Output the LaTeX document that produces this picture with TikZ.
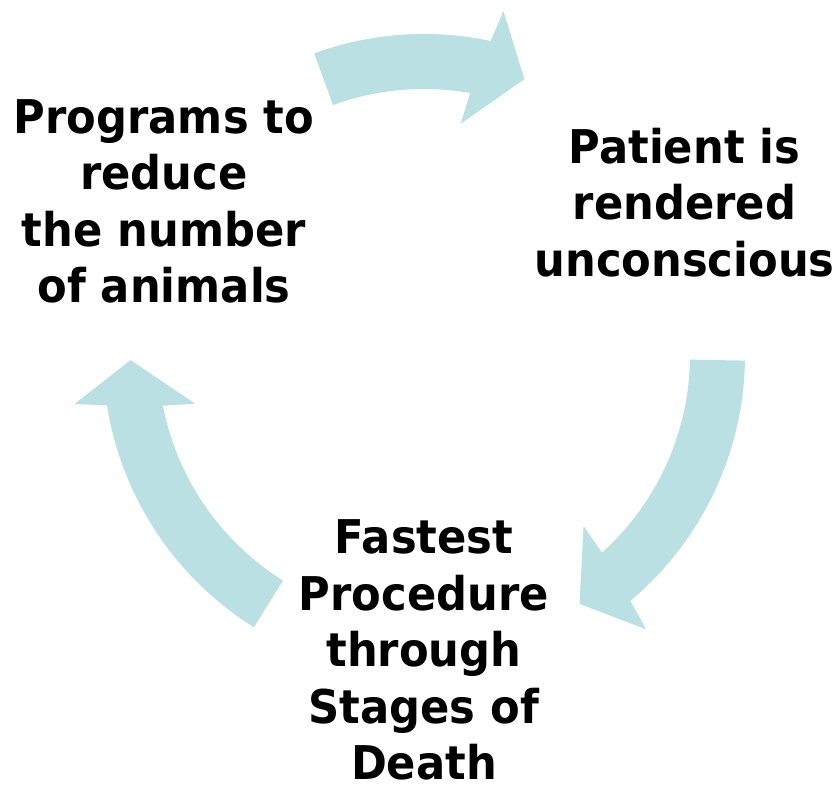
\documentclass[tikz,border=0pt]{standalone}
\usepackage{fontspec}
\setmainfont{DejaVu Sans}[FakeStretch=0.93]
\usepackage{xcolor}
\usepackage{tikz}

\definecolor{cyclefill}{RGB}{187,224,227}

% curved block arrow around the hub: #1 start angle, #2 head base angle, #3 tip angle
% (head base is tilted a little, outer barb leans toward the tip)
\newcommand{\cyclearrow}[3]{%
  \fill[cyclefill] (#1:321) arc[start angle=#1, end angle=#2-1, radius=321]
    -- (#2-2:353) -- (#3:293.5) -- (#2+2:234) -- (#2+1:266)
    arc[start angle=#2+1, end angle=#1, radius=266] -- cycle;}

\begin{document}
\begin{tikzpicture}[
    x=1pt, y=1pt,
    stagetext/.style={align=center, inner sep=0pt, font=\fontsize{46.5pt}{56.5pt}\selectfont\bfseries}
  ]
    \useasboundingbox (0,0) rectangle (836,789);
    \coordinate (hub) at (424,434);

    \node[stagetext] (progs) at (164,587.5) {Programs to\\reduce\\the number\\of animals};
    \node[stagetext] (patient) at (684.5,586.5) {Patient is\\rendered\\unconscious};
    \node[stagetext] (fastest) at (424,139) {Fastest\\Procedure\\through\\Stages of\\Death};

    \begin{scope}[shift={(hub)}]
      \cyclearrow{110}{79}{70}     % progs -> patient
      \cyclearrow{-1}{-49}{-58}    % patient -> fastest
      \cyclearrow{238}{190}{181}   % fastest -> progs
    \end{scope}
  \end{tikzpicture}
\end{document}
